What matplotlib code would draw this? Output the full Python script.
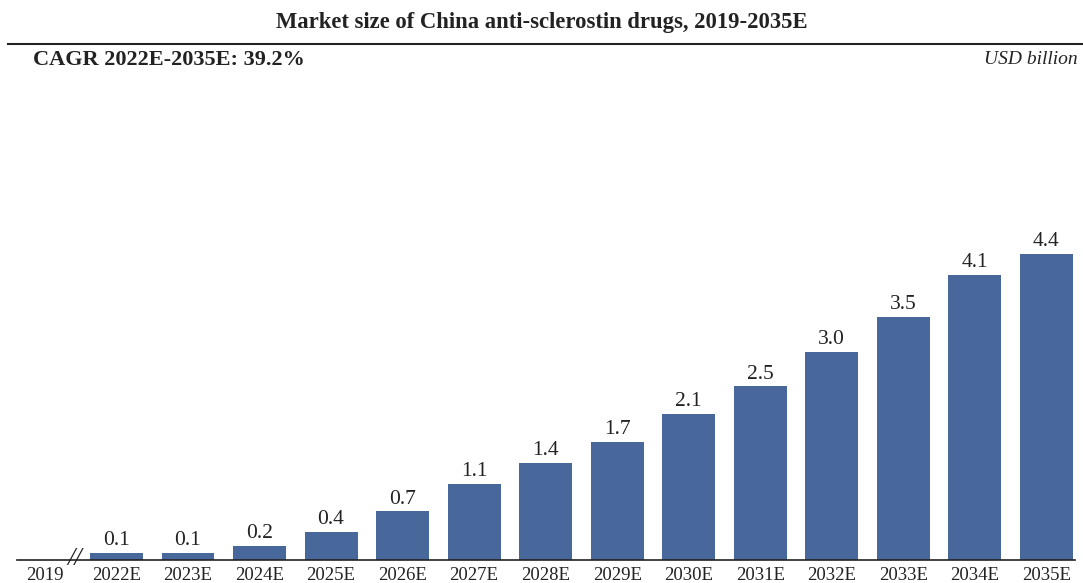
import matplotlib.pyplot as plt

plt.rcParams['font.family'] = ['Liberation Serif', 'DejaVu Serif']

years = ['2019', '2022E', '2023E', '2024E', '2025E', '2026E', '2027E', '2028E',
         '2029E', '2030E', '2031E', '2032E', '2033E', '2034E', '2035E']
values = [0, 0.1, 0.1, 0.2, 0.4, 0.7, 1.1, 1.4, 1.7, 2.1, 2.5, 3.0, 3.5, 4.1, 4.4]
labels = ['', '0.1', '0.1', '0.2', '0.4', '0.7', '1.1', '1.4', '1.7', '2.1',
          '2.5', '3.0', '3.5', '4.1', '4.4']

fig = plt.figure(figsize=(10.83, 5.83), dpi=100)
ax = fig.add_axes([17 / 1083, 23 / 583, 1058 / 1083, 460 / 583])

x = list(range(len(years)))
bars = ax.bar(x, values, width=0.74, color='#48689c', zorder=2)
for b, lab in zip(bars, labels):
    if lab:
        ax.annotate(lab, (b.get_x() + b.get_width() / 2, b.get_height()),
                    xytext=(0, 2), textcoords='offset points',
                    ha='center', va='bottom', fontsize=15.5, color='#222222')

ax.set_xlim(-0.39, 14.4)
ax.set_ylim(0, 6.62)
ax.set_xticks(x)
ax.set_xticklabels(years, fontsize=13.5, color='#222222')
ax.tick_params(axis='x', length=0, pad=5)
ax.set_yticks([])
for s in ['top', 'left', 'right']:
    ax.spines[s].set_visible(False)
ax.spines['bottom'].set_linewidth(1.2)
ax.spines['bottom'].set_color('#222222')

# axis break marker between 2019 and 2022E
ax.text(0.42, 0.02, '//', fontsize=19, ha='center', va='center',
        fontstyle='italic', color='#222222', zorder=3)

fig.text(0.5, 0.962, 'Market size of China anti-sclerostin drugs, 2019-2035E',
         ha='center', va='center', fontsize=16.3, fontweight='bold', color='#222222')
fig.add_artist(plt.Line2D([8 / 1083, 1.0], [1 - 44 / 583, 1 - 44 / 583],
                          color='#222222', lw=1.5))
fig.text(33 / 1083, 1 - 60 / 583, 'CAGR 2022E-2035E: 39.2%', ha='left', va='center',
         fontsize=16, fontweight='bold', color='#222222')
fig.text(1078 / 1083, 1 - 60 / 583, 'USD billion', ha='right', va='center',
         fontsize=14, fontstyle='italic', color='#222222')

fig.savefig('out.png', dpi=100)
